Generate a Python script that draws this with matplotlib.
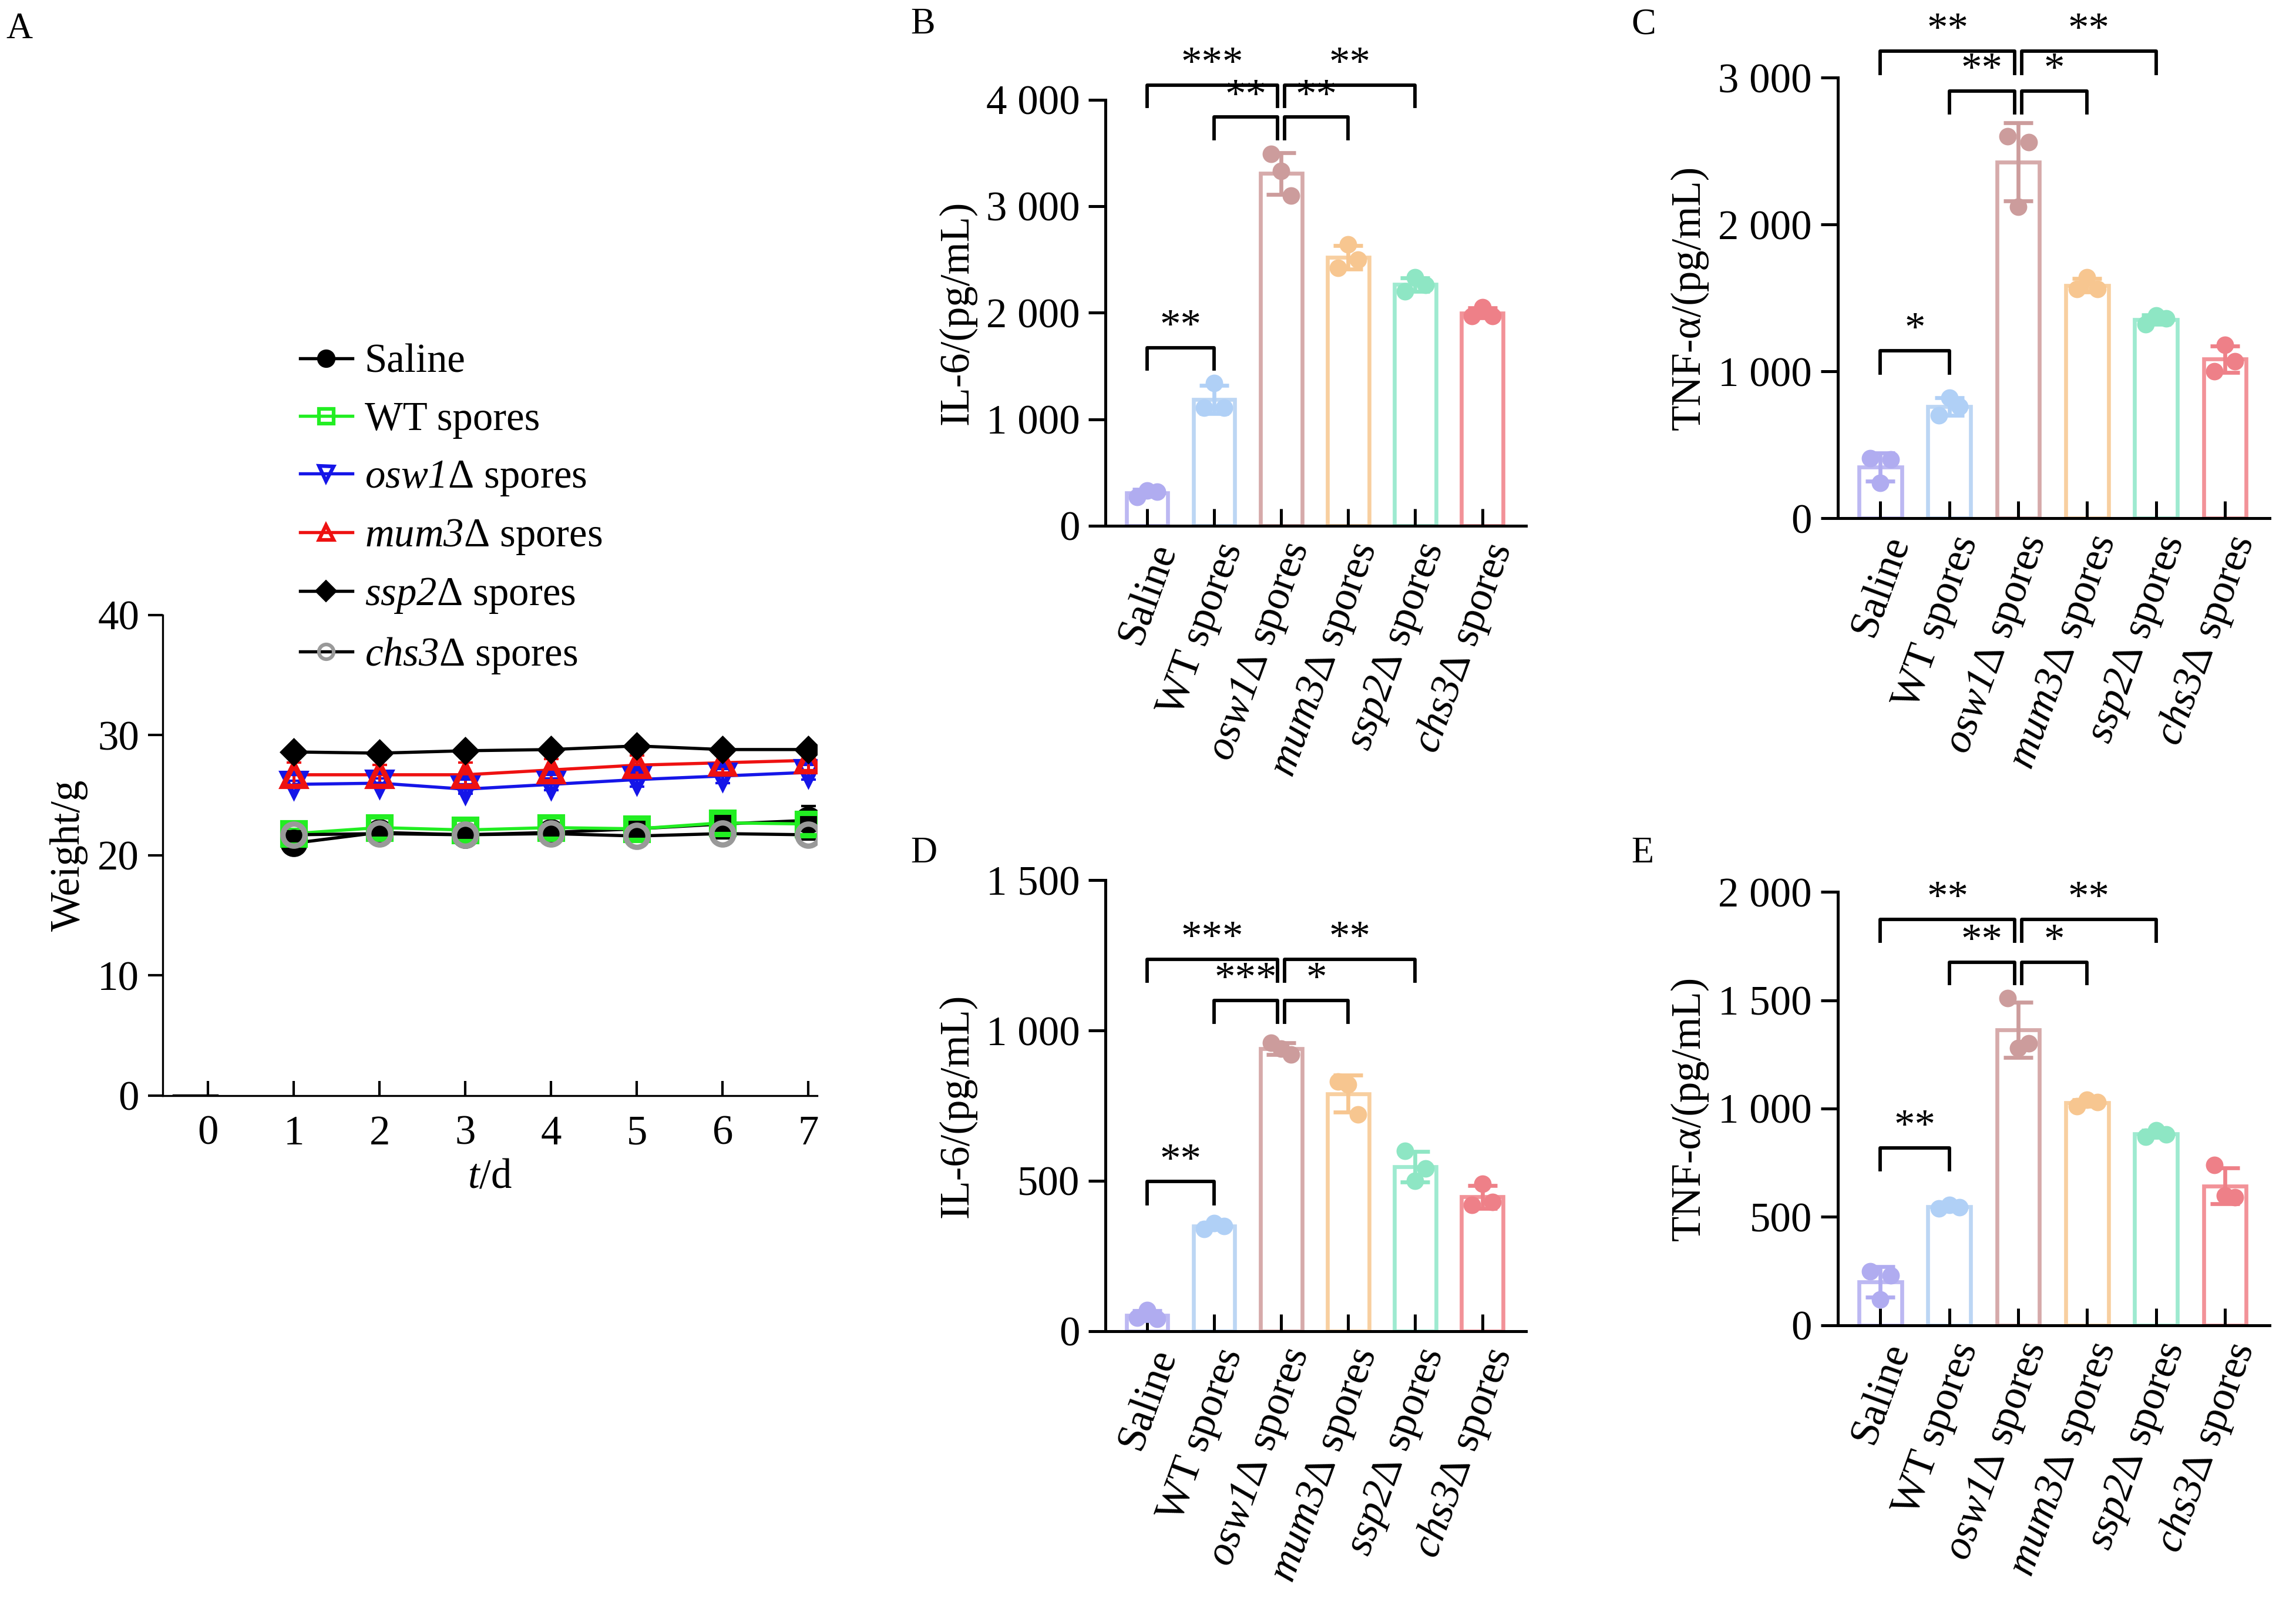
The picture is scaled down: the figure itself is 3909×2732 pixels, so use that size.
import numpy as np
import matplotlib
matplotlib.use("Agg")
import matplotlib.pyplot as plt

plt.rcParams['font.family'] = ['Liberation Serif', 'DejaVu Serif']
plt.rcParams['mathtext.fontset'] = 'custom'
plt.rcParams['mathtext.rm'] = 'Liberation Serif:italic'
plt.rcParams['mathtext.it'] = 'Liberation Serif:italic'

# ---------------- data ----------------
days = [0, 1, 2, 3, 4, 5, 6, 7]
w_days = [1, 2, 3, 4, 5, 6, 7]
w_saline = [21.0, 21.9, 21.7, 21.9, 22.2, 22.6, 22.9]
w_wt = [21.8, 22.3, 22.1, 22.3, 22.2, 22.7, 22.6]
w_osw1 = [25.9, 26.0, 25.5, 25.9, 26.3, 26.6, 26.9]
w_mum3 = [26.7, 26.7, 26.7, 27.1, 27.5, 27.7, 27.9]
w_ssp2 = [28.6, 28.5, 28.7, 28.8, 29.1, 28.8, 28.8]
w_chs3 = [21.7, 21.8, 21.7, 21.8, 21.6, 21.8, 21.7]
w_err_saline = [0.3, 0.6, 0.4, 0.8, 0.6, 0.7, 1.2]
w_err_wt = [0.4, 0.4, 0.3, 0.4, 0.6, 0.5, 0.5]
w_err_osw1 = [0.3, 0.4, 0.4, 0.5, 0.6, 0.6, 0.6]
w_err_mum3 = [1.0, 0.8, 1.0, 0.9, 0.8, 0.8, 0.8]
w_err_ssp2 = [0.2, 0.2, 0.3, 0.3, 0.3, 0.3, 0.3]
w_err_chs3 = [0.3, 0.3, 0.3, 0.3, 0.4, 0.4, 0.4]

groups = ['Saline', 'WT spores', r'$\mathrm{osw1}$Δ spores', r'$\mathrm{mum3}$Δ spores',
          r'$\mathrm{ssp2}$Δ spores', r'$\mathrm{chs3}$Δ spores']

il6_b = [[270, 330, 320], [1110, 1340, 1110], [3490, 3330, 3100],
         [2420, 2640, 2500], [2200, 2330, 2260], [1970, 2050, 1970]]
tnf_c = [[410, 240, 400], [700, 820, 760], [2600, 2120, 2560],
         [1560, 1640, 1560], [1320, 1380, 1360], [1000, 1180, 1070]]
il6_d = [[45, 70, 40], [340, 360, 350], [960, 940, 920],
         [830, 820, 720], [600, 500, 540], [420, 490, 430]]
tnf_e = [[250, 120, 230], [540, 555, 545], [1510, 1280, 1300],
         [1010, 1040, 1030], [870, 900, 880], [740, 600, 590]]

bar_colors = ['#bcb8f2', '#bcd6f4', '#d6aaaa', '#f8cfa0', '#9eead0', '#f29298']
dot_colors = ['#b0acf0', '#b0d0f6', '#cc9c9c', '#f7c690', '#8ee6c4', '#ee8088']

# ---------------- figure ----------------
W, H = 1568, 1096
fig = plt.figure(figsize=(3909 / 300, 2732 / 300), dpi=300)

def rect(l, r, b, t):
    return [l / W, 1 - b / H, (r - l) / W, (b - t) / H]

FS = 17

# Panel A
axA = fig.add_axes(rect(111, 558, 748, 420))
series = [
    ('Saline', w_saline, w_err_saline, 'o', 'black', 'black', 'black'),
    ('WT spores', w_wt, w_err_wt, 's', '#22ee22', 'none', '#22ee22'),
    (r'$\mathrm{osw1}$Δ spores', w_osw1, w_err_osw1, 'v', '#1515e8', 'none', '#1515e8'),
    (r'$\mathrm{mum3}$Δ spores', w_mum3, w_err_mum3, '^', '#ee1111', 'none', '#ee1111'),
    (r'$\mathrm{ssp2}$Δ spores', w_ssp2, w_err_ssp2, 'D', 'black', 'black', 'black'),
    (r'$\mathrm{chs3}$Δ spores', w_chs3, w_err_chs3, 'o', '#999999', 'none', 'black'),
]
handles = []
for lab, y, e, m, mc, mf, lc in series:
    axA.errorbar(w_days, y, yerr=e, fmt='none', ecolor=lc, elinewidth=1.2, capsize=3, zorder=2)
    ms = 9 if m != 'D' else 6
    axA.plot(w_days, y, color=lc, lw=1.3, zorder=3)
    axA.plot(w_days, y, ls='none', marker=m, ms=ms, mec=mc, mfc=mf, mew=2.2, zorder=4)
    h, = plt.plot([], [], color=lc, lw=1.3, marker=m, ms=6 if m != 'D' else 5,
                  mec=mc, mfc=mf, mew=1.5)
    handles.append((h, lab))
axA.plot([-0.4, 0.1], [0, 0], color='black', lw=1.3)
axA.set_xlim(-0.53, 7.1)
axA.set_ylim(0, 40)
axA.set_xticks(days)
axA.set_yticks([0, 10, 20, 30, 40])
axA.tick_params(axis='x', direction='in', length=6, width=1, labelsize=FS, pad=8)
axA.tick_params(axis='y', direction='out', length=6, width=1, labelsize=FS)
for s in ['top', 'right']:
    axA.spines[s].set_visible(False)
axA.set_xlabel(r'$t$/d', fontsize=FS, labelpad=2)
axA.set_ylabel('Weight/g', fontsize=FS)
fig.legend([h for h, _ in handles], [l for _, l in handles], loc='upper left',
           bbox_to_anchor=(180 / W, 1 - 210 / H), frameon=False, fontsize=16.5,
           handlelength=1.3, handletextpad=0.3, labelspacing=0.5)
fig.text(4 / W, 1 - 20 / H, 'A', fontsize=15, va='center')

def bar_panel(box, data, ylim, yticks, yticklabels, ylabel, brackets, leg, letter, lpos):
    ax = fig.add_axes(rect(*box))
    x = np.arange(len(data))
    means = [np.mean(d) for d in data]
    sds = [np.std(d, ddof=1) for d in data]
    ax.bar(x, means, width=0.62, color='white', edgecolor=bar_colors, linewidth=1.6, zorder=1)
    for i in range(len(data)):
        ax.errorbar(x[i], means[i], yerr=sds[i], fmt='none', ecolor=dot_colors[i],
                    elinewidth=1.6, capsize=6, capthick=1.6, zorder=2)
        ax.scatter([x[i] - 0.15, x[i], x[i] + 0.15][:len(data[i])], data[i], s=38,
                   color=dot_colors[i], zorder=3, clip_on=False)
    ax.set_xlim(-0.62, len(data) - 0.35)
    ax.set_ylim(*ylim)
    ax.set_yticks(yticks)
    ax.set_yticklabels(yticklabels)
    ax.set_xticks(x)
    ax.set_xticklabels(groups, rotation=70, ha='right', rotation_mode='anchor')
    ax.tick_params(axis='x', direction='in', length=7, width=1.2, labelsize=FS, pad=5)
    ax.tick_params(axis='y', direction='out', length=7, width=1.2, labelsize=FS)
    for s in ['top', 'right']:
        ax.spines[s].set_visible(False)
    for s in ['left', 'bottom']:
        ax.spines[s].set_linewidth(1.2)
    ax.set_ylabel(ylabel, fontsize=FS, labelpad=4)
    for a, b, yv, txt in brackets:
        xa = a + (0.05 if a == 2 else 0)
        xb = b - (0.05 if b == 2 else 0)
        ax.plot([xa, xa, xb, xb], [yv - leg, yv, yv, yv - leg], color='black', lw=1.4,
                clip_on=False)
        ax.text((xa + xb) / 2, yv + leg * 0.05, txt, ha='center', va='bottom',
                fontsize=17, clip_on=False)
    fig.text(lpos[0] / W, 1 - lpos[1] / H, letter, fontsize=15, va='center')
    return ax

bar_panel((755, 1042, 359, 68), il6_b, (0, 4000), [0, 1000, 2000, 3000, 4000],
          ['0', '1 000', '2 000', '3 000', '4 000'], 'IL-6/(pg/mL)',
          [(0, 1, 1670, '**'), (1, 2, 3835, '**'), (2, 3, 3835, '**'),
           (0, 2, 4137, '***'), (2, 4, 4137, '**')], 200, 'B', (622, 17))
bar_panel((1255, 1550, 354, 53), tnf_c, (0, 3000), [0, 1000, 2000, 3000],
          ['0', '1 000', '2 000', '3 000'], 'TNF-α/(pg/mL)',
          [(0, 1, 1140, '*'), (1, 2, 2910, '**'), (2, 3, 2910, '*'),
           (0, 2, 3180, '**'), (2, 4, 3180, '**')], 150, 'C', (1114, 17))
bar_panel((755, 1042, 909, 601), il6_d, (0, 1500), [0, 500, 1000, 1500],
          ['0', '500', '1 000', '1 500'], 'IL-6/(pg/mL)',
          [(0, 1, 497, '**'), (1, 2, 1100, '***'), (2, 3, 1100, '*'),
           (0, 2, 1237, '***'), (2, 4, 1237, '**')], 73, 'D', (622, 583))
bar_panel((1255, 1550, 905, 609), tnf_e, (0, 2000), [0, 500, 1000, 1500, 2000],
          ['0', '500', '1 000', '1 500', '2 000'], 'TNF-α/(pg/mL)',
          [(0, 1, 818, '**'), (1, 2, 1676, '**'), (2, 3, 1676, '*'),
           (0, 2, 1872, '**'), (2, 4, 1872, '**')], 100, 'E', (1114, 583))

fig.savefig('out.png', dpi=300)
